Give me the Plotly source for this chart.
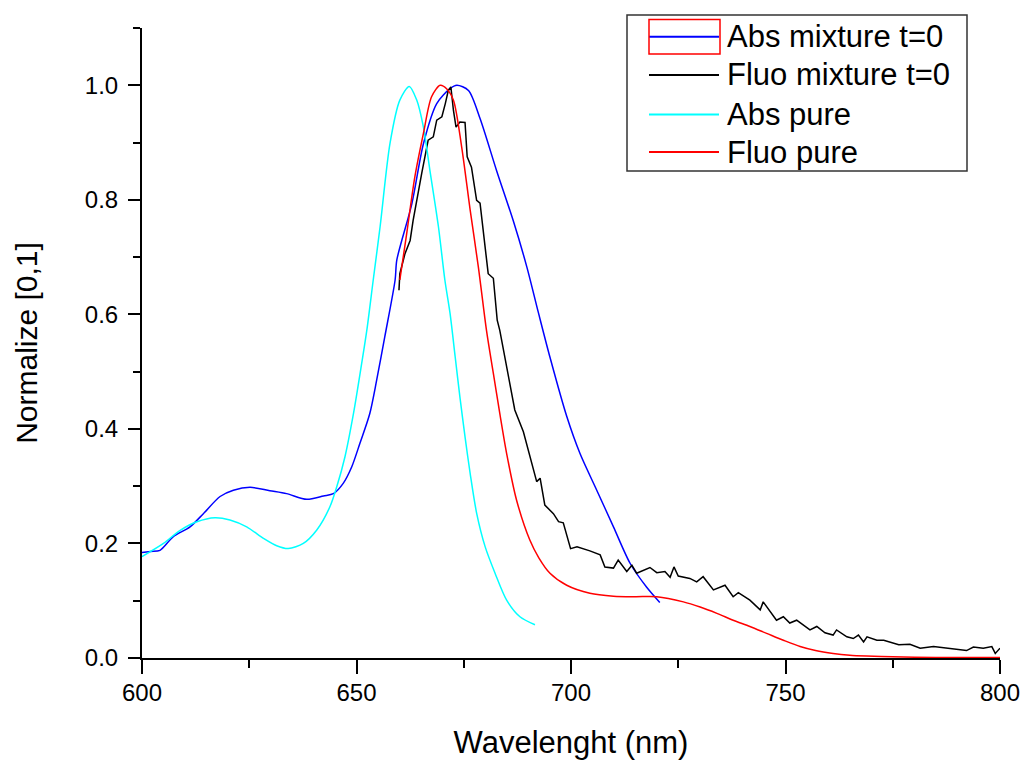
import plotly.graph_objects as go

# Absorption of the mixture at t=0
abs_mix_nm = [600, 602, 604.2, 607.3, 611.2, 614.3, 618.2, 621.3, 625.2, 629.8, 633.7,
              638.4, 642.3, 644.6, 646.9, 648.9, 650.8, 653.1, 654.7, 656.6, 659.0,
              659.4, 662.9, 665.6, 668.7, 671.8, 673.4, 676.1, 678.8, 682.7, 686.6,
              689.7, 692.4, 695.1, 699.0, 702.1, 706.0, 709.9, 713.8, 717.6, 720.7]
abs_mix = [0.184, 0.186, 0.188, 0.212, 0.229, 0.252, 0.282, 0.293, 0.298, 0.292, 0.287,
           0.277, 0.283, 0.287, 0.305, 0.334, 0.375, 0.427, 0.485, 0.561, 0.660,
           0.695, 0.793, 0.898, 0.968, 0.994, 1.0, 0.991, 0.942, 0.850, 0.762,
           0.683, 0.603, 0.525, 0.422, 0.357, 0.293, 0.229, 0.165, 0.124, 0.097]

# Fluorescence of the mixture at t=0
fluo_mix_nm = [659.9, 660.1, 661.3, 662.5, 663.2, 664.0, 665.2, 666.7, 667.9, 668.7, 669.9,
               670.7, 671.4, 672.0, 672.6, 673.2, 674.1, 675.3, 675.8, 676.8, 678.0,
               678.8, 679.9, 680.7, 681.9, 682.8, 683.4, 685.0, 686.9, 688.9, 690.4,
               692.0, 692.8, 693.9, 695.9, 697.1, 698.2, 699.9, 701.4, 704.4, 706.8,
               707.9, 709.9, 711.0, 713.0, 714.2, 715.3, 718.4, 720.0, 721.9, 723.1,
               724.0, 725.0, 727.7, 729.3, 730.8, 733.2, 735.9, 737.8, 739.0, 741.7,
               744.1, 744.8, 747.9, 749.5, 751.0, 752.6, 755.7, 757.3, 759.2, 761.1,
               761.9, 764.3, 765.8, 767.0, 768.2, 769.0, 771.3, 772.9, 776.4, 779.0,
               781.4, 784.5, 787.6, 789.9, 792.2, 793.8, 796.1, 798.1, 798.9, 800.0]
fluo_mix = [0.642, 0.671, 0.706, 0.729, 0.764, 0.799, 0.846, 0.904, 0.910, 0.939, 0.945,
            0.968, 0.991, 0.997, 0.956, 0.927, 0.936, 0.935, 0.875, 0.857, 0.799,
            0.794, 0.724, 0.671, 0.663, 0.590, 0.572, 0.508, 0.433, 0.395, 0.351,
            0.308, 0.314, 0.267, 0.252, 0.238, 0.236, 0.191, 0.194, 0.187, 0.180,
            0.159, 0.157, 0.171, 0.151, 0.162, 0.148, 0.158, 0.149, 0.151, 0.141,
            0.159, 0.143, 0.139, 0.133, 0.142, 0.119, 0.127, 0.107, 0.114, 0.101,
            0.084, 0.098, 0.066, 0.072, 0.061, 0.066, 0.049, 0.055, 0.044, 0.040,
            0.049, 0.037, 0.034, 0.040, 0.028, 0.037, 0.031, 0.031, 0.023, 0.024,
            0.017, 0.020, 0.017, 0.014, 0.013, 0.019, 0.017, 0.020, 0.008, 0.017]

# Absorption of the pure dye
abs_pure_nm = [600, 605, 608.9, 612.8, 617.0, 620.5, 624.4, 628.3, 631.4, 634.1, 637.6,
               640.7, 643.8, 645.4, 647.3, 649.3, 651.2, 652.4, 653.9, 655.5, 657.8,
               660.1, 662.3, 664.0, 665.6, 667.1, 669.1, 670.6, 671.8, 673.0, 674.1,
               675.3, 676.5, 678.0, 680.0, 682.3, 685.0, 688.1, 691.6]
abs_pure = [0.177, 0.200, 0.223, 0.238, 0.245, 0.241, 0.229, 0.209, 0.196, 0.191, 0.200,
            0.223, 0.264, 0.299, 0.351, 0.427, 0.514, 0.572, 0.660, 0.753, 0.898,
            0.974, 0.998, 0.975, 0.927, 0.852, 0.753, 0.660, 0.602, 0.526, 0.456,
            0.386, 0.322, 0.253, 0.194, 0.148, 0.101, 0.072, 0.058]

# Fluorescence of the pure dye
fluo_pure_nm = [660.1, 661.7, 663.6, 665.6, 667.5, 669.5, 671.0, 672.6, 674.5, 676.5,
                678.4, 680.3, 681.9, 683.4, 685.0, 687.3, 690.4, 692.5, 695.1, 699.0,
                704.4, 709.9, 715.0, 720.0, 726.2, 730.1, 734.0, 737.8, 741.7, 745.6,
                749.5, 753.4, 757.0, 761.1, 765.0, 768.9, 775.0, 785.0, 793.0, 800.0]
fluo_pure = [0.660, 0.741, 0.840, 0.916, 0.980, 1.0, 0.994, 0.974, 0.893, 0.782,
             0.683, 0.572, 0.497, 0.427, 0.357, 0.276, 0.206, 0.175, 0.148, 0.127,
             0.113, 0.108, 0.107, 0.107, 0.098, 0.089, 0.078, 0.066, 0.055, 0.043,
             0.031, 0.020, 0.013, 0.008, 0.005, 0.0035, 0.002, 0.001, 0.001, 0.001]

series_names = ["Abs mixture t=0", "Fluo mixture t=0", "Abs pure", "Fluo pure"]
series_colors = ["#0000FF", "#000000", "#00FFFF", "#FF0000"]
series_shapes = ["spline", "linear", "spline", "spline"]
series_x = [abs_mix_nm, fluo_mix_nm, abs_pure_nm, fluo_pure_nm]
series_y = [abs_mix, fluo_mix, abs_pure, fluo_pure]

FONT = "Arial, Liberation Sans, sans-serif"
W, H = 1025, 760
ML, MR, MT, MB = 142, 25, 28, 102
PW, PH = W - ML - MR, H - MT - MB


def px(x):
    return (x - ML) / PW


def py(y):
    return (H - MB - y) / PH


fig = go.Figure()
for name, color, shape, xs, ys in zip(series_names, series_colors, series_shapes,
                                      series_x, series_y):
    fig.add_trace(go.Scatter(x=xs, y=ys, mode="lines", name=name,
                             line=dict(color=color, width=1.5, shape=shape, smoothing=0.8),
                             showlegend=False))

# Legend box drawn in the top-right corner
shapes = [dict(type="rect", xref="paper", yref="paper",
               x0=px(627), x1=px(967), y0=py(171), y1=py(15),
               line=dict(color="#333333", width=1.5), fillcolor="white", layer="above")]
annotations = []
row_y = [36.7, 75.0, 114.5, 152.0]
for name, color, ry in zip(series_names, series_colors, row_y):
    shapes.append(dict(type="line", xref="paper", yref="paper",
                       x0=px(649), x1=px(719), y0=py(ry), y1=py(ry),
                       line=dict(color=color, width=2), layer="above"))
    annotations.append(dict(xref="paper", yref="paper", x=px(725), y=py(ry),
                            xanchor="left", yanchor="middle", text=name, showarrow=False,
                            font=dict(family=FONT, size=31, color="black")))
# selection frame around the first legend sample
shapes.append(dict(type="rect", xref="paper", yref="paper",
                   x0=px(649), x1=px(720), y0=py(54), y1=py(19.5),
                   line=dict(color="#FF0000", width=1.5), layer="above"))

axis_common = dict(showgrid=False, zeroline=False, showline=True, linecolor="black",
                   linewidth=2, ticks="outside", tickcolor="black", tickwidth=2,
                   automargin=False,
                   tickfont=dict(family=FONT, size=24, color="black"), mirror=False)

fig.update_layout(
    width=W, height=H,
    margin=dict(l=ML, r=MR, t=MT, b=MB),
    paper_bgcolor="white", plot_bgcolor="white",
    showlegend=False,
    shapes=shapes, annotations=annotations,
    xaxis=dict(range=[600, 800], dtick=50, tick0=600, ticklen=14, ticklabelstandoff=-2,
               minor=dict(dtick=25, ticklen=8, tickwidth=2, tickcolor="black", ticks="outside"),
               title=dict(text="Wavelenght (nm)", font=dict(family=FONT, size=31, color="black"),
                          standoff=27),
               **axis_common),
    yaxis=dict(range=[0, 1.1], dtick=0.2, tick0=0, tickformat=".1f", ticklen=12,
               ticklabelstandoff=5,
               minor=dict(dtick=0.1, ticklen=7, tickwidth=2, tickcolor="black", ticks="outside"),
               title=dict(text="Normalize [0,1]", font=dict(family=FONT, size=30, color="black"),
                          standoff=38),
               **axis_common),
)

fig.write_html("out.html")
